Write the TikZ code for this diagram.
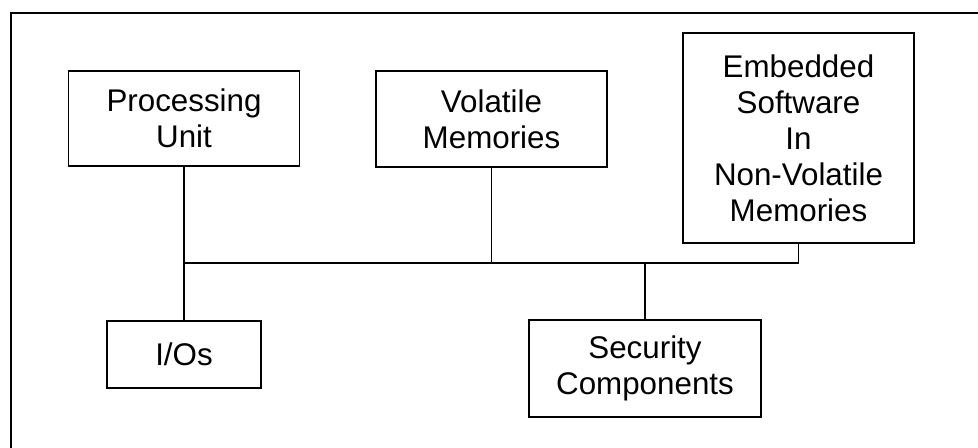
\documentclass[tikz,border=0pt]{standalone}
\usepackage{fontspec}
\setmainfont{Liberation Sans}
\usetikzlibrary{calc}

\tikzset{
	block/.style={draw, line width=1.4pt, align=center, inner sep=0pt,
		font=\fontsize{23.5}{27}\selectfont},
	wire/.style={line width=1.4pt}
}

\begin{document}
\begin{tikzpicture}[x=0.75pt, y=-0.75pt]

\useasboundingbox (0,0) rectangle (978,448);

% Define coordinates.

	%frame corners
	\coordinate (frameLow) at (11, 448);
	\coordinate (frameCorner) at (11, 13);
	\coordinate (frameRight) at (978, 13);

	%bus
	\coordinate (busLeft) at (184, 263);

% Draw frame.

	\draw[wire] (frameLow) -- (frameCorner) -- (frameRight);

% Draw blocks.

	\node[block, minimum width=173.25pt, minimum height=71.25pt] (cpu) at (184, 118.5) {Processing\\Unit};
	\node[block, minimum width=173.25pt, minimum height=72pt] (ram) at (491.5, 119) {Volatile\\Memories};
	\node[block, minimum width=173.25pt, minimum height=157.5pt] (nvm) at (798.5, 138) {Embedded\\Software\\In\\Non-Volatile\\Memories};
	\node[block, minimum width=115.5pt, minimum height=50.25pt] (io) at (184, 354.5) {I/Os};
	\node[block, minimum width=174pt, minimum height=72.75pt] (sec) at (645, 368.5) {Security\\Components};

% Draw lines.

	\draw[wire] (nvm.south) |- (busLeft);
	\draw[wire] (cpu) -- (io);
	\draw[wire] (ram) -- (ram |- busLeft);
	\draw[wire] (sec) -- (sec |- busLeft);

\end{tikzpicture}
\end{document}
